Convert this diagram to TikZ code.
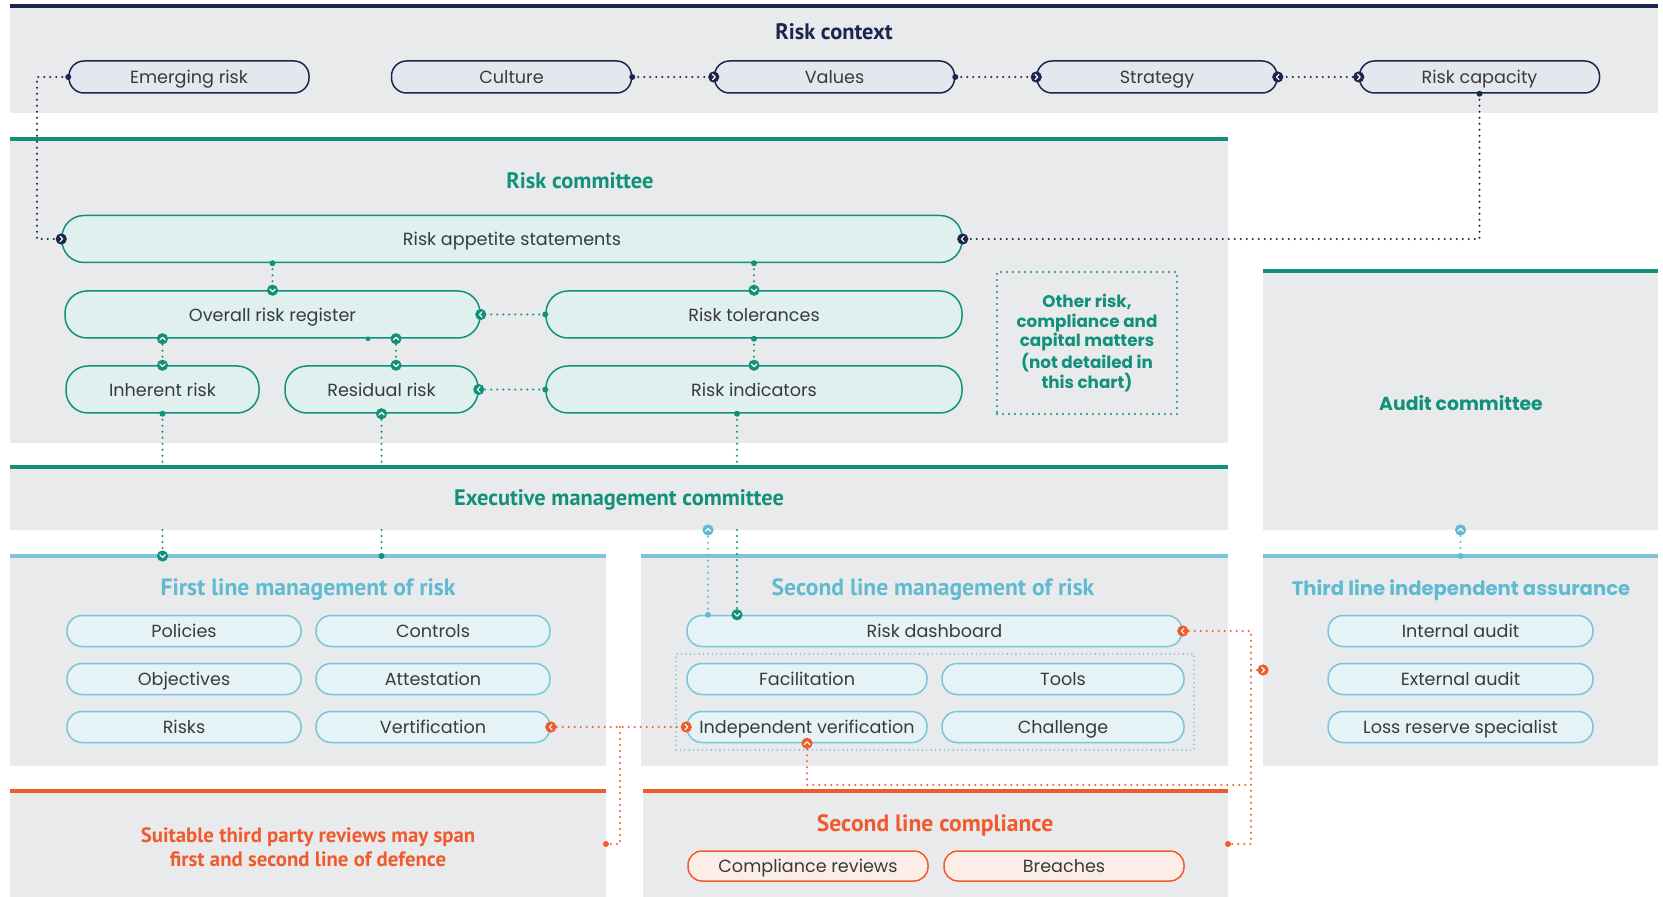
\documentclass[tikz,border=0pt]{standalone}
\usepackage{fontspec}
\setmainfont{Poppins}
\newfontfamily\condf{PT Sans}
\usetikzlibrary{calc}

\definecolor{navy}{HTML}{1C2450}
\definecolor{rteal}{HTML}{12917A}
\definecolor{tealfill}{HTML}{DFF0EE}
\definecolor{bluec}{HTML}{5FBAD2}
\definecolor{blueline}{HTML}{7CC4D8}
\definecolor{bluefill}{HTML}{E6F3F6}
\definecolor{orangec}{HTML}{F15A2B}
\definecolor{pinkfill}{HTML}{FDEDE8}
\definecolor{panelgray}{HTML}{E9EAEC}
\definecolor{ctxfill}{HTML}{E4E7ED}
\definecolor{labelc}{HTML}{3A3A3A}

% filled circle with a white chevron; angle 0 points right
\newcommand{\mkchev}[3]{%
  \begin{scope}[shift={(#1)},rotate=#2]
    \fill[#3] (0,0) circle (2.8pt);
    \draw[white,line width=0.6pt,line cap=round,line join=round]
      (-0.6pt,1.3pt) -- (0.7pt,0pt) -- (-0.6pt,-1.3pt);
  \end{scope}}
% small filled dot at a connector end
\newcommand{\mkdot}[2]{\fill[#2] (#1) circle (1.5pt);}

\tikzset{
  panel/.style={fill=panelgray,draw=none,inner sep=0pt,outer sep=0pt,anchor=north west},
  labelfont/.style={font=\fontsize{8.8}{10}\selectfont},
  pillbase/.style={draw,line width=0.75pt,inner sep=0pt,text=labelc,labelfont,
                   text height=8.4pt,text depth=1.6pt},
  ctxpill/.style={pillbase,draw=navy,fill=ctxfill,minimum width=120pt,minimum height=16pt,rounded corners=7.5pt},
  rcpill/.style={pillbase,draw=rteal,fill=tealfill,minimum height=23.5pt,rounded corners=11pt},
  blpill/.style={pillbase,draw=blueline,fill=bluefill,minimum height=15.5pt,rounded corners=7.5pt},
  orpill/.style={pillbase,draw=orangec,fill=pinkfill,minimum height=15pt,rounded corners=7pt},
  condtitle/.style={font=\condf\bfseries\fontsize{11.2}{13}\selectfont},
  linetitle/.style={font=\condf\bfseries\fontsize{11.8}{13.5}\selectfont},
  widetitle/.style={font=\bfseries\fontsize{9.4}{11}\selectfont},
  dotline/.style={line width=1.1pt,line cap=round,dash pattern=on 0pt off 3pt},
  ndot/.style={dotline,draw=navy},
  tdot/.style={dotline,draw=rteal},
  bdot/.style={dotline,draw=bluec},
  odot/.style={dotline,draw=orangec},
}

\begin{document}
\begin{tikzpicture}[x=0.5pt,y=-0.5pt]
\useasboundingbox (0,0) rectangle (1663,897);

% ---------- panels ----------
\node[panel,minimum width=824pt,minimum height=53.5pt] (ctx) at (10,6) {};
\node[panel,minimum width=609pt,minimum height=152pt] (rc) at (10,139) {};
\node[panel,minimum width=609pt,minimum height=31.5pt] (exec) at (10,467) {};
\node[panel,minimum width=197.5pt,minimum height=129.5pt] (audit) at (1263,271) {};
\node[panel,minimum width=298pt,minimum height=105pt] (fl) at (10,556) {};
\node[panel,minimum width=293.5pt,minimum height=105pt] (sl) at (641,556) {};
\node[panel,minimum width=197.5pt,minimum height=105pt] (tl) at (1263,556) {};
\node[panel,minimum width=298pt,minimum height=53pt] (tp) at (10,791) {};
\node[panel,minimum width=292.5pt,minimum height=53pt] (slc) at (643,791) {};

\draw[navy,line width=2pt] (ctx.north west) -- (ctx.north east);
\foreach \p in {rc,exec,audit}
  \draw[rteal,line width=1.8pt] (\p.north west) -- (\p.north east);
\foreach \p in {fl,sl,tl}
  \draw[blueline,line width=1.8pt] (\p.north west) -- (\p.north east);
\foreach \p in {tp,slc}
  \draw[orangec,line width=1.8pt] (\p.north west) -- (\p.north east);

% ---------- titles ----------
\node[condtitle,text=navy] (tctx) at (834,32) {Risk context};
\node[condtitle,text=rteal] (trc) at (580,181) {Risk committee};
\node[condtitle,text=rteal] (texec) at (619,500) {Executive management committee};
\node[widetitle,text=rteal] (taudit) at (1461,403) {Audit committee};
\node[linetitle,text=bluec] (tfl) at (308,590) {First line management of risk};
\node[linetitle,text=bluec] (tsl) at (933,590) {Second line management of risk};
\node[widetitle,text=bluec,font=\bfseries\fontsize{9.8}{11}\selectfont] (ttl) at (1461,590) {Third line independent assurance};
\node[linetitle,text=orangec] (tslc) at (935,825) {Second line compliance};
\node[text=orangec,align=center,font=\condf\bfseries\fontsize{10.4}{12}\selectfont] (ttp) at (308,847)
  {Suitable third party reviews may span\\first and second line of defence};

% ---------- risk context ----------
\node[ctxpill] (emerging) at (189,77) {Emerging risk};
\node[ctxpill] (culture) at (511.5,77) {Culture};
\node[ctxpill] (values) at (834.5,77) {Values};
\node[ctxpill] (strategy) at (1157,77) {Strategy};
\node[ctxpill] (capacity) at (1479.5,77) {Risk capacity};

% ---------- risk committee ----------
\node[rcpill,minimum width=450pt] (ras) at (512,239) {Risk appetite statements};
\node[rcpill,minimum width=207.5pt] (orr) at (272.5,314.5) {Overall risk register};
\node[rcpill,minimum width=208pt] (rt) at (754,314.5) {Risk tolerances};
\node[rcpill,minimum width=96.5pt] (inh) at (162.5,389.5) {Inherent risk};
\node[rcpill,minimum width=96.5pt] (res) at (381.5,389.5) {Residual risk};
\node[rcpill,minimum width=208pt] (ri) at (754,389.5) {Risk indicators};
\node[draw=rteal,dotline,minimum width=90pt,minimum height=71pt,inner sep=0pt,
      text=rteal,align=center,font=\bfseries\fontsize{8.4}{9.9}\selectfont] (other) at (1087,343)
  {Other risk,\\compliance and\\capital matters\\(not detailed in\\this chart)};

% ---------- first line ----------
\node[blpill,minimum width=117pt] (policies) at (184,631) {Policies};
\node[blpill,minimum width=117pt] (controls) at (433,631) {Controls};
\node[blpill,minimum width=117pt] (objectives) at (184,679) {Objectives};
\node[blpill,minimum width=117pt] (attest) at (433,679) {Attestation};
\node[blpill,minimum width=117pt] (risks) at (184,727) {Risks};
\node[blpill,minimum width=117pt] (vert) at (433,727) {Vertification};

% ---------- second line ----------
\node[draw=bluec,dotline,line width=0.8pt,dash pattern=on 0pt off 2.2pt,minimum width=259pt,minimum height=48pt,inner sep=0pt] (slgroup) at (935,702) {};
\node[blpill,minimum width=247.5pt] (rd) at (934.5,631) {Risk dashboard};
\node[blpill,minimum width=120pt] (fac) at (807,679) {Facilitation};
\node[blpill,minimum width=121pt] (tools) at (1063,679) {Tools};
\node[blpill,minimum width=120pt] (iv) at (807,727) {Independent verification};
\node[blpill,minimum width=121pt] (chal) at (1063,727) {Challenge};

% ---------- third line ----------
\node[blpill,minimum width=132.5pt] (ia) at (1460.5,631) {Internal audit};
\node[blpill,minimum width=132.5pt] (ea) at (1460.5,679) {External audit};
\node[blpill,minimum width=132.5pt] (lrs) at (1460.5,727) {Loss reserve specialist};

% ---------- compliance ----------
\node[orpill,minimum width=120pt] (crev) at (808,866) {Compliance reviews};
\node[orpill,minimum width=120pt] (breach) at (1064,866) {Breaches};

% ---------- helper coordinates ----------
\coordinate (lk) at (37,0);
\coordinate (oj) at (620,0);
\coordinate (ox) at (1251,0);
\coordinate (oy) at (0,785);

% ---------- navy connectors ----------
\draw[ndot] (emerging.west) -| (lk |- ras.west) -- (ras.west);
\mkdot{emerging.west}{navy}
\mkchev{ras.west}{0}{navy}
\draw[ndot] (culture.east) -- (values.west);
\mkdot{culture.east}{navy}
\mkchev{values.west}{0}{navy}
\draw[ndot] (values.east) -- (strategy.west);
\mkdot{values.east}{navy}
\mkchev{strategy.west}{0}{navy}
\draw[ndot] (capacity.west) -- (strategy.east);
\mkchev{strategy.east}{180}{navy}
\mkchev{capacity.west}{0}{navy}
\draw[ndot] (capacity.south) |- (ras.east);
\mkdot{capacity.south}{navy}
\mkchev{ras.east}{180}{navy}

% ---------- teal connectors ----------
\draw[tdot] (orr.north |- ras.south) -- (orr.north);
\mkdot{orr.north |- ras.south}{rteal}
\mkchev{orr.north}{-90}{rteal}
\draw[tdot] (rt.north |- ras.south) -- (rt.north);
\mkdot{rt.north |- ras.south}{rteal}
\mkchev{rt.north}{-90}{rteal}
\draw[tdot] (rt.west) -- (orr.east);
\mkdot{rt.west}{rteal}
\mkchev{orr.east}{180}{rteal}
\draw[tdot] (orr.south -| inh.north) -- (inh.north);
\mkchev{orr.south -| inh.north}{90}{rteal}
\mkchev{inh.north}{-90}{rteal}
\draw[tdot] ([xshift=61.75pt]orr.south) -- ([xshift=7.25pt]res.north);
\mkchev{[xshift=61.75pt]orr.south}{90}{rteal}
\mkchev{[xshift=7.25pt]res.north}{-90}{rteal}
\fill[rteal] ([xshift=47.75pt]orr.south) circle (1.2pt);
\draw[tdot] (rt.south) -- (ri.north);
\mkdot{rt.south}{rteal}
\mkchev{ri.north}{-90}{rteal}
\draw[tdot] (ri.west) -- (res.east);
\mkdot{ri.west}{rteal}
\mkchev{res.east}{180}{rteal}

% inherent risk down to first line
\draw[tdot] (inh.south) -- (inh.south |- exec.north);
\draw[tdot] (inh.south |- exec.south) -- (inh.south |- fl.north);
\mkdot{inh.south}{rteal}
\mkchev{inh.south |- fl.north}{-90}{rteal}
% first line up to residual risk
\draw[tdot] (res.south) -- (res.south |- exec.north);
\draw[tdot] (res.south |- exec.south) -- (res.south |- fl.north);
\mkchev{res.south}{90}{rteal}
\mkdot{res.south |- fl.north}{rteal}
% risk indicators down to risk dashboard
\draw[tdot] ([xshift=-8.5pt]ri.south) -- ([xshift=-8.5pt]ri.south |- exec.north);
\draw[tdot] ([xshift=-98.75pt]rd.north |- exec.south) -- ([xshift=-98.75pt]rd.north);
\mkdot{[xshift=-8.5pt]ri.south}{rteal}
\mkchev{[xshift=-98.75pt]rd.north}{-90}{rteal}

% ---------- blue connectors ----------
\draw[bdot] ([xshift=-113.25pt]rd.north) -- ([xshift=-113.25pt]rd.north |- exec.south);
\mkdot{[xshift=-113.25pt]rd.north}{bluec}
\mkchev{[xshift=-113.25pt]rd.north |- exec.south}{90}{bluec}
\draw[bdot] (audit.south) -- (audit.south |- tl.north);
\mkchev{audit.south}{90}{bluec}
\mkdot{audit.south |- tl.north}{bluec}

% ---------- orange connectors ----------
\draw[odot] (vert.east) -- (iv.west);
\draw[odot] (oj |- vert.east) |- (tp.east);
\mkchev{vert.east}{180}{orangec}
\mkchev{iv.west}{0}{orangec}
\mkdot{tp.east}{orangec}
\draw[odot] (rd.east) -| (ox |- slc.east) -- (slc.east);
\draw[odot] (ox |- tl.west) ++(0,9) -- ([yshift=-4.5pt]tl.west);
\draw[odot] (iv.south) |- (ox |- oy);
\mkchev{rd.east}{180}{orangec}
\mkchev{[yshift=-4.5pt]tl.west}{0}{orangec}
\mkchev{iv.south}{90}{orangec}
\mkdot{slc.east}{orangec}
\end{tikzpicture}
\end{document}
